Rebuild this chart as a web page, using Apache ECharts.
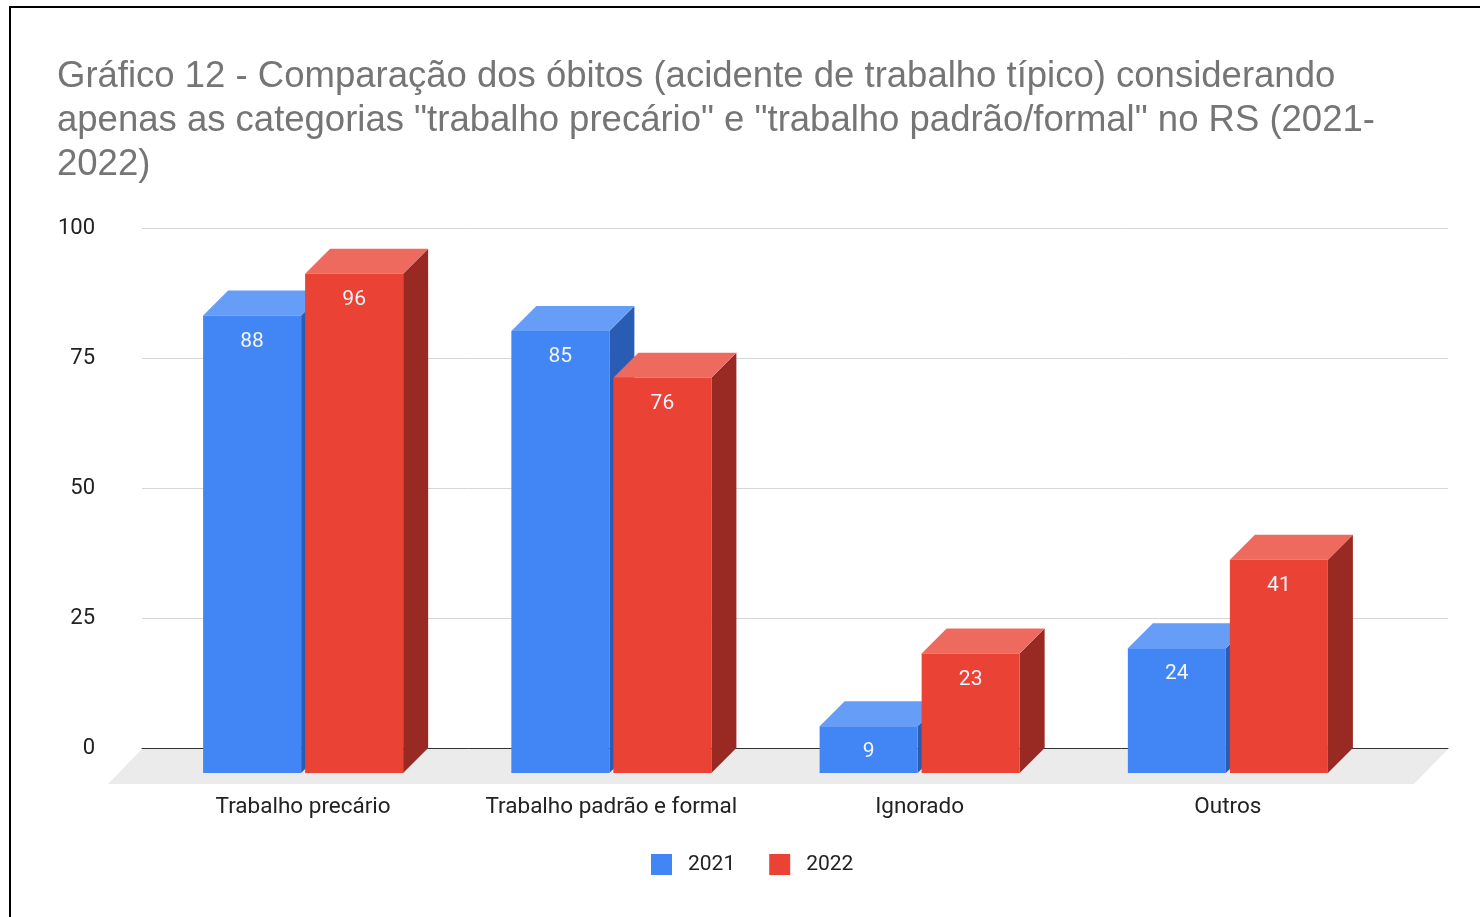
<!DOCTYPE html>
<html>
<head>
<meta charset="utf-8">
<title>Gráfico 12</title>
<script src="https://cdn.jsdelivr.net/npm/echarts@6/dist/echarts.min.js"></script>
<style>
  html, body { margin: 0; padding: 0; background: #fff; }
  #chart { width: 1480px; height: 917px; }
</style>
</head>
<body>
<div id="chart"></div>
<script>
// dados do gráfico
const categorias = ['Trabalho precário', 'Trabalho padrão e formal', 'Ignorado', 'Outros'];
const anos = ['2021', '2022'];
const valores2021 = [88, 85, 9, 24];
const valores2022 = [96, 76, 23, 41];
const ticksY = [0, 25, 50, 75, 100];

// cores das faces (frente, topo, lado)
const cores = [
    { frente: '#4285f4', topo: '#669df6', lado: '#2b5cb3' },
    { frente: '#ea4335', topo: '#ee6a5e', lado: '#982a23' }
];
const PROF = 25; // profundidade do efeito 3D em px

const chartDom = document.getElementById('chart');
let chart = echarts.init(chartDom);

// barra 3D: face frontal + topo + lado direito
function barra3d(idx) {
    return function (params, api) {
        const cat = api.value(0);
        const val = api.value(1);
        const topo = api.coord([cat, val]);
        const base = api.coord([cat, 0]);
        const banda = api.size([1, 0])[0];
        const w = banda * 0.318;
        const gap = banda * 0.0065;
        const x0 = idx === 0 ? topo[0] - gap - w : topo[0] + gap;
        const x1 = x0 + w;
        const yT = topo[1], yB = base[1];
        const c = cores[idx];
        return {
            type: 'group',
            children: [
                {
                    type: 'polygon',
                    shape: { points: [[x1, yB], [x1, yT], [x1 + PROF, yT - PROF], [x1 + PROF, yB - PROF]] },
                    style: { fill: c.lado }
                },
                {
                    type: 'polygon',
                    shape: { points: [[x0, yT], [x1, yT], [x1 + PROF, yT - PROF], [x0 + PROF, yT - PROF]] },
                    style: { fill: c.topo }
                },
                {
                    type: 'rect',
                    shape: { x: x0, y: yT, width: w, height: yB - yT },
                    style: { fill: c.frente }
                },
                {
                    type: 'text',
                    style: {
                        x: x0 + w / 2, y: yT + 26,
                        text: String(val),
                        fill: '#f4f6fc',
                        font: '21px Roboto',
                        align: 'center', verticalAlign: 'middle'
                    }
                }
            ]
        };
    };
}

let option = {
    animation: false,
    title: {
        text: 'Gráfico 12 - Comparação dos óbitos (acidente de trabalho típico) considerando\n' +
              'apenas as categorias "trabalho precário" e "trabalho padrão/formal" no RS (2021-\n' +
              '2022)',
        left: 57,
        top: 55,
        padding: 0,
        textStyle: {
            fontFamily: 'Liberation Sans',
            fontSize: 36.5,
            fontWeight: 'normal',
            color: '#757575',
            lineHeight: 44
        }
    },
    legend: {
        data: anos,
        left: 651,
        top: 854,
        padding: 0,
        itemWidth: 21,
        itemHeight: 21,
        itemGap: 34,
        icon: 'rect',
        textStyle: { fontFamily: 'Roboto', fontSize: 21, color: '#222', padding: [0, 0, 0, 11] }
    },
    graphic: [
        {
            type: 'rect',
            shape: { x: 10, y: 7, width: 1600, height: 1000 },
            style: { fill: 'none', stroke: '#000', lineWidth: 2 },
            z: 100
        }
    ],
    grid: [
        // plano de fundo (linhas de grade)
        { left: 142, right: 32, top: 228, bottom: 169 },
        // plano frontal das barras
        { left: 149, right: 98, top: 253, bottom: 144 }
    ],
    xAxis: [
        {
            type: 'category', gridIndex: 0, data: categorias,
            axisLine: { lineStyle: { color: '#333', width: 1 } },
            axisTick: { show: false },
            axisLabel: { show: false }
        },
        {
            type: 'category', gridIndex: 1, data: categorias,
            axisLine: { show: false },
            axisTick: { show: false },
            axisLabel: { interval: 0, fontFamily: 'Roboto', fontSize: 22.5, color: '#222', margin: 23 }
        }
    ],
    yAxis: [
        {
            type: 'value', gridIndex: 0, min: ticksY[0], max: ticksY[ticksY.length - 1], interval: 25,
            axisLine: { show: false },
            axisTick: { show: false },
            axisLabel: { fontFamily: 'Roboto', fontSize: 22, color: '#222', margin: 47, padding: [4, 0, 0, 0] },
            splitLine: { lineStyle: { color: '#d6d6d6' } }
        },
        {
            type: 'value', gridIndex: 1, min: ticksY[0], max: ticksY[ticksY.length - 1], interval: 25,
            show: false
        }
    ],
    series: [
        {
            // piso cinza
            name: 'piso',
            type: 'custom',
            xAxisIndex: 0, yAxisIndex: 0,
            silent: true,
            z: 1,
            data: [[0, 0]],
            renderItem: function (params, api) {
                const cs = params.coordSys;
                const y0 = api.coord([0, 0])[1] + 1;
                return {
                    type: 'polygon',
                    shape: { points: [[cs.x, y0], [cs.x + cs.width, y0], [cs.x + cs.width - 34, y0 + 35], [cs.x - 34, y0 + 35]] },
                    style: { fill: '#ebebeb' }
                };
            }
        },
        {
            name: '2021',
            type: 'custom',
            xAxisIndex: 1, yAxisIndex: 1,
            itemStyle: { color: cores[0].frente },
            encode: { x: 0, y: 1 },
            data: valores2021.map((v, i) => [i, v]),
            renderItem: barra3d(0)
        },
        {
            name: '2022',
            type: 'custom',
            xAxisIndex: 1, yAxisIndex: 1,
            itemStyle: { color: cores[1].frente },
            encode: { x: 0, y: 1 },
            data: valores2022.map((v, i) => [i, v]),
            renderItem: barra3d(1)
        }
    ]
};

chart.setOption(option);
</script>
</body>
</html>
